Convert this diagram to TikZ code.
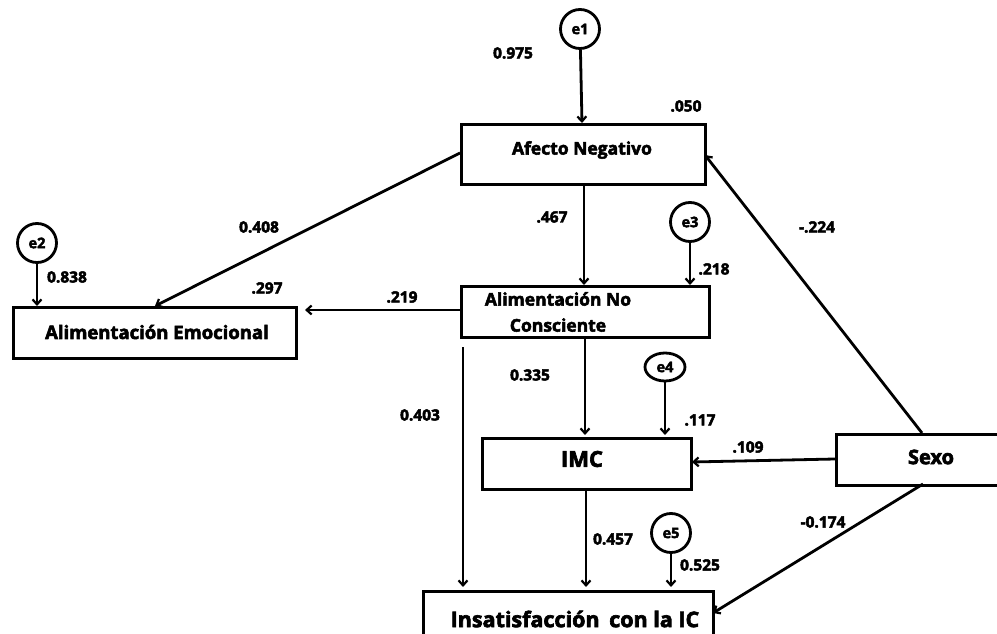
\documentclass[tikz,border=0pt]{standalone}
\usepackage{fontspec}
\setmainfont{Open Sans}[BoldFeatures={FakeBold=3}]
\usetikzlibrary{arrows.meta,shapes.geometric}
\begin{document}
\begin{tikzpicture}[x=1pt,y=-1pt,
  line width=2.8pt,
  arr/.style={-{Straight Barb[length=5pt,width=9pt,line width=2.2pt]}},
  boxn/.style={draw,rectangle,inner sep=0pt,anchor=north west},
  errc/.style={draw,circle,minimum size=39pt,inner sep=0pt,font=\bfseries\fontsize{14.5}{16}\selectfont},
  lbl/.style={font=\bfseries\fontsize{15.5}{17}\selectfont,inner sep=0pt},
  btxt/.style={font=\bfseries\fontsize{17.5}{22}\selectfont,inner sep=0pt,align=center},
  ]
\useasboundingbox (0,0) rectangle (997,634);
% boxes
\node[boxn,minimum width=244pt,minimum height=60pt] (an) at (460,123) {};
\node[btxt] at (582,150) {Afecto Negativo};
\node[boxn,minimum width=283pt,minimum height=51pt] (ae) at (12,306) {};
\node[btxt,font=\bfseries\fontsize{18.5}{22}\selectfont] at (157,332) {Alimentación Emocional};
\node[boxn,minimum width=248pt,minimum height=51pt] (anc) at (460,285) {};
\node[btxt,font=\bfseries\fontsize{17.5}{26}\selectfont] at (558,312) {Alimentación No\\Consciente};
\node[boxn,minimum width=209pt,minimum height=51pt] (imc) at (481,437) {};
\node[btxt,font=\bfseries\fontsize{22}{26}\selectfont] at (582,459) {IMC};
\node[boxn,minimum width=180pt,minimum height=51pt] (sexo) at (835,433) {};
\node[btxt,font=\bfseries\fontsize{20}{24}\selectfont] at (931,457) {Sexo};
\node[boxn,minimum width=290pt,minimum height=60pt] (ins) at (422,590) {};
\node[btxt,font=\bfseries\fontsize{21.5}{26}\selectfont] at (575,619) {Insatisfacción\hspace{0.45em}con la IC};
% error terms
\node[errc] (e1) at (580,29) {e1};
\node[errc] (e2) at (37,243) {e2};
\node[errc] (e3) at (690,222) {e3};
\node[draw,ellipse,inner sep=0pt,minimum width=40pt,minimum height=28pt,font=\bfseries\fontsize{14.5}{16}\selectfont] (e4) at (665,367) {e4};
\node[errc] (e5) at (671,533) {e5};
% coordinates
\coordinate (e1t) at (582,123);
\coordinate (e2t) at (37,306);
\coordinate (e3t) at (690,285);
\coordinate (e4t) at (665,435);
\coordinate (e5t) at (671,587);
\coordinate (anl) at (460,153);
\coordinate (aet) at (155,306);
\coordinate (anb) at (584,183);
\coordinate (anct) at (584,285);
\coordinate (ancl) at (460,310);
\coordinate (aer) at (305,310);
\coordinate (vl1) at (463,347);
\coordinate (vl2) at (463,587);
\coordinate (ancb) at (585,336);
\coordinate (imct) at (585,435);
\coordinate (imcb) at (586,488);
\coordinate (inst) at (586,587);
\coordinate (sxl) at (835,459);
\coordinate (imcr) at (692,462);
\coordinate (sxt) at (922,433);
\coordinate (anr) at (705,155);
\coordinate (sxb) at (923,484);
\coordinate (insr) at (713,613);
% connectors
\draw[arr] (e1) -- (e1t);
\draw[arr] (e2) -- (e2t);
\draw[arr] (e3) -- (e3t);
\draw[arr] (e4) -- (e4t);
\draw[arr] (e5) -- (e5t);
\draw[arr] (anl) -- (aet);
\draw[arr] (anb) -- (anct);
\draw[arr] (ancl) -- (aer);
\draw[arr] (vl1) -- (vl2);
\draw[arr] (ancb) -- (imct);
\draw[arr] (imcb) -- (inst);
\draw[arr] (sxl) -- (imcr);
\draw[arr] (sxt) -- (anr);
\draw[arr] (sxb) -- (insr);
% labels
\node[lbl] at (513,53) {0.975};
\node[lbl] at (686,106) {.050};
\node[lbl] at (259,227) {0.408};
\node[lbl] at (67,277) {0.838};
\node[lbl] at (267,288) {.297};
\node[lbl] at (552,217) {.467};
\node[lbl] at (714,269) {.218};
\node[lbl] at (402,297) {.219};
\node[lbl] at (530,375) {0.335};
\node[lbl] at (420,415) {0.403};
\node[lbl] at (700,420) {.117};
\node[lbl] at (748,447) {.109};
\node[lbl] at (817,227) {-.224};
\node[lbl] at (823,522) {-0.174};
\node[lbl] at (613,539) {0.457};
\node[lbl] at (700,565) {0.525};
\end{tikzpicture}
\end{document}
